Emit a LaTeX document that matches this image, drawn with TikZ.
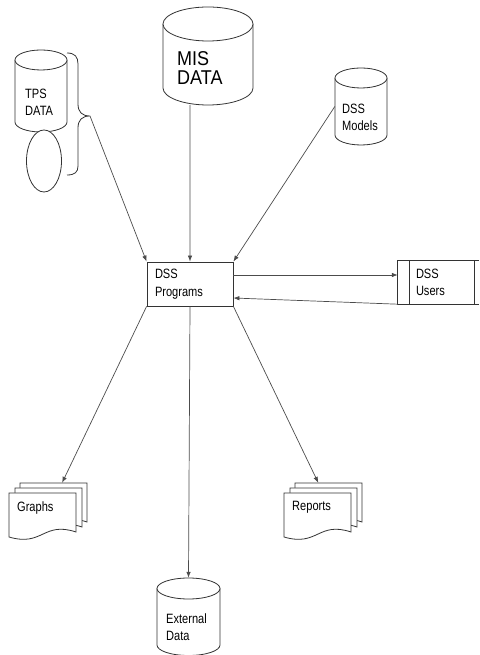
\documentclass[tikz,border=0pt]{standalone}
\usepackage{fontspec}
\setmainfont{Liberation Sans}[FakeStretch=0.82]
\newfontfamily\misfont{Liberation Sans}[FakeStretch=0.9]
\usetikzlibrary{arrows.meta,calc}
\tikzset{
  shp/.style={draw=black!80, line width=0.8pt, fill=white},
  conn/.style={draw=black!70, line width=0.7pt, -{Latex[length=6pt,width=4.5pt]}},
  lbl/.style={font=\fontsize{13.5}{17.5}\selectfont, align=left, inner sep=0pt, anchor=west},
  ghost/.style={inner sep=0pt, draw=none},
}
% name, cx, Ytop, Ybot, rx, ry
\newcommand\mycyl[6]{%
  \draw[shp] (#2-#5,#3) -- (#2-#5,#4) arc[start angle=180,end angle=360,x radius=#5,y radius=#6] -- (#2+#5,#3);
  \draw[shp] (#2,#3) ellipse[x radius=#5,y radius=#6];
  \node[ghost,minimum width={2*#5},minimum height={#3-#4+2*#6}] (#1) at (#2,{(#3+#4)/2}) {};
}
% one sheet: left, top
\newcommand\mysheet[2]{%
  \draw[shp] (#1,#2) -- (#1+67,#2) -- (#1+67,#2-39) .. controls (#1+34,#2-28) and (#1+34,#2-54) .. (#1,#2-44) -- cycle;
}
% name, front left, front top
\newcommand\mydocs[3]{%
  \mysheet{#2+11}{#3+10}
  \mysheet{#2+6}{#3+5}
  \mysheet{#2}{#3}
  \node[ghost,minimum width=78,minimum height=54] (#1) at (#2+39,#3-17) {};
}
\begin{document}
\begin{tikzpicture}[x=1pt,y=1pt]
\useasboundingbox (0,0) rectangle (479,655);

% data stores
\mycyl{tps}{41}{595}{533}{26}{10}
\node[lbl] (tpsT) at (25,552.5) {TPS\\DATA};
\draw[shp] (44,494) ellipse[x radius=17.5, y radius=31];
\node[ghost,minimum width=35,minimum height=62] (tpsE) at (44,494) {};

\mycyl{mis}{208}{631}{567}{45}{17}
\node[lbl,font=\misfont\fontsize{20}{19.5}\selectfont] (misT) at (177,587) {MIS\\DATA};

\mycyl{models}{361}{577}{520}{26}{10}
\node[lbl] (modelsT) at (342,537.5) {DSS\\Models};

\mycyl{ext}{188.5}{66.5}{10}{31.5}{10.5}
\node[lbl] (extT) at (166,28) {External\\Data};

% brace
\draw[black!80, line width=0.8pt] (67,602) .. controls (75,602) and (78,598) .. (78,591)
  -- (78,551) .. controls (78,543) and (82,539) .. (90,539)
  .. controls (82,539) and (78,535) .. (78,527)
  -- (78,489) .. controls (78,483) and (75,480) .. (67,480);
\coordinate (brace) at (90,539);

% process boxes
\node[shp, minimum width=86, minimum height=44, text width=70, inner xsep=8pt,
  align=left, font=\fontsize{13.5}{17.5}\selectfont] (prog) at (190,371) {DSS\\Programs};

\node[ghost, minimum height=43, text width=45, inner xsep=18pt, align=left,
  font=\fontsize{13.5}{17.5}\selectfont] (users) at (438.5,372.5) {DSS\\Users};
\draw[black!80, line width=0.8pt] (users.north east) -- (users.north west) -- (users.south west) -- (users.south east);
\draw[black!80, line width=0.8pt] ([xshift=12pt]users.north west) -- ([xshift=12pt]users.south west);
\draw[black!80, line width=0.8pt] ([xshift=-5pt]users.north east) -- ([xshift=-5pt]users.south east);

% documents
\mydocs{graphs}{9}{162}
\node[lbl] (graphsT) at (17,146.6) {Graphs};
\mydocs{reports}{284}{162}
\node[lbl] (reportsT) at (292,147.6) {Reports};

% connectors
\draw[conn] (brace) -- (prog.north west);
\draw[conn] ($(mis.south west)!0.3!(mis.south east)$) -- (prog.north);
\draw[conn] (models.west) -- (prog.north east);
\draw[conn] ([yshift=9pt]prog.east) -- ([yshift=9pt]prog.east -| users.west);
\draw[conn] (users.south west) -- ([yshift=-14pt]prog.east);
\draw[conn] (prog.south west) -- ($(graphs.north west)!0.68!(graphs.north east)$);
\draw[conn] (prog.south) -- (ext.north);
\draw[conn] (prog.south east) -- ($(reports.north west)!0.44!(reports.north east)$);
\end{tikzpicture}
\end{document}
